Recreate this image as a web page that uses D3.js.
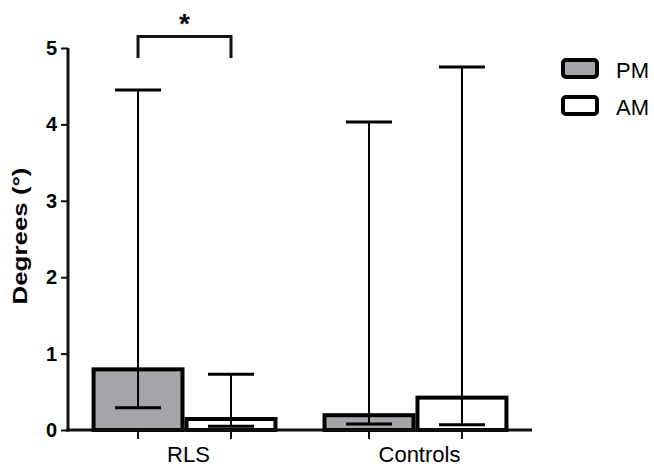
<!DOCTYPE html>
<html>
<head>
<meta charset="utf-8">
<script src="https://cdn.jsdelivr.net/npm/d3@7"></script>
<style>
  body { margin: 0; background: #fff; }
  text { font-family: Arial, "Liberation Sans", sans-serif; }
</style>
</head>
<body>
<div id="chart"></div>
<script>
var categories = ["RLS", "Controls"];
var series = ["PM", "AM"];
var pmMean = [0.82, 0.22],
    pmLow = [0.29, 0.08],
    pmHigh = [4.45, 4.03];
var amMean = [0.17, 0.45],
    amLow = [0.05, 0.07],
    amHigh = [0.73, 4.75];
var yTicks = [0, 1, 2, 3, 4, 5];
var colors = { PM: "#a5a5a9", AM: "#ffffff" };

var width = 654,
    height = 468;

var svg = d3.select("#chart").append("svg")
    .attr("width", width)
    .attr("height", height);

var y = d3.scaleLinear().domain([0, 5]).range([430, 48]);

var x0 = d3.scaleBand()
    .domain(categories)
    .range([68, 532])
    .paddingInner(0.195)
    .paddingOuter(0.102);

var x1 = d3.scaleBand()
    .domain(series)
    .range([0, x0.bandwidth()]);

var rows = [];
categories.forEach(function(c, i) {
  rows.push({ cat: c, key: "PM", mean: pmMean[i], low: pmLow[i], high: pmHigh[i] });
  rows.push({ cat: c, key: "AM", mean: amMean[i], low: amLow[i], high: amHigh[i] });
});

function cx(d) { return x0(d.cat) + x1(d.key) + x1.bandwidth() / 2; }

// bars
svg.selectAll(".bar")
  .data(rows)
  .enter().append("rect")
    .attr("class", "bar")
    .attr("x", function(d) { return x0(d.cat) + x1(d.key) + 2; })
    .attr("width", x1.bandwidth() - 4)
    .attr("y", function(d) { return y(d.mean) + 2; })
    .attr("height", function(d) { return y(0) - y(d.mean) - 2; })
    .attr("fill", function(d) { return colors[d.key]; })
    .attr("stroke", "#000")
    .attr("stroke-width", 4);

// error bars
var eb = svg.selectAll(".err").data(rows).enter().append("g").attr("class", "err");
eb.append("line")
    .attr("x1", cx).attr("x2", cx)
    .attr("y1", function(d) { return y(d.low); })
    .attr("y2", function(d) { return y(d.high); })
    .attr("stroke", "#000").attr("stroke-width", 2);
["low", "high"].forEach(function(k) {
  eb.append("line")
    .attr("x1", function(d) { return cx(d) - 23; })
    .attr("x2", function(d) { return cx(d) + 23; })
    .attr("y1", function(d) { return y(d[k]); })
    .attr("y2", function(d) { return y(d[k]); })
    .attr("stroke", "#000").attr("stroke-width", 3);
});

// y axis
var yAxis = svg.append("g")
    .attr("transform", "translate(68,0)")
    .call(d3.axisLeft(y).tickValues(yTicks).tickFormat(d3.format("d")).tickSize(7).tickPadding(4));
yAxis.select(".domain").attr("stroke", "#111").attr("stroke-width", 3).attr("d", "M0," + (y(0) + 1.5) + "V" + y(5));
yAxis.selectAll(".tick line").attr("stroke", "#111").attr("stroke-width", 2);
yAxis.selectAll(".tick text")
    .attr("font-size", 20).attr("font-weight", "bold").attr("fill", "#000")
    .attr("font-family", "Arial, 'Liberation Sans', sans-serif");

// x axis
var xg = svg.append("g");
xg.append("line")
    .attr("x1", 66.5).attr("x2", 532)
    .attr("y1", y(0)).attr("y2", y(0))
    .attr("stroke", "#111").attr("stroke-width", 3);
xg.selectAll(".xt").data(rows).enter().append("line")
    .attr("x1", cx).attr("x2", cx)
    .attr("y1", y(0)).attr("y2", y(0) + 9)
    .attr("stroke", "#111").attr("stroke-width", 2);
xg.selectAll(".xl").data(categories).enter().append("text")
    .attr("x", function(d) { return x0(d) + x0.bandwidth() / 2 + 4; })
    .attr("y", 462)
    .attr("text-anchor", "middle")
    .attr("font-size", 22)
    .text(function(d) { return d; });

// y label
svg.append("text")
    .attr("transform", "translate(27,236) rotate(-90)")
    .attr("text-anchor", "middle")
    .attr("font-size", 21)
    .attr("font-weight", "bold")
    .attr("textLength", 137)
    .attr("lengthAdjust", "spacingAndGlyphs")
    .text("Degrees (°)");

// significance bracket
var bx1 = cx(rows[0]), bx2 = cx(rows[1]);
svg.append("path")
    .attr("d", "M" + bx1 + "," + y(4.87) + "V" + y(5.15) + "H" + bx2 + "V" + y(4.87))
    .attr("fill", "none").attr("stroke", "#111").attr("stroke-width", 3);
svg.append("text")
    .attr("x", (bx1 + bx2) / 2)
    .attr("y", 33)
    .attr("text-anchor", "middle")
    .attr("font-size", 28)
    .attr("font-weight", "bold")
    .text("*");

// legend
var lg = svg.selectAll(".lg").data(series).enter().append("g")
    .attr("transform", function(d, i) { return "translate(563," + (60 + i * 37) + ")"; });
lg.append("rect")
    .attr("width", 34).attr("height", 17).attr("rx", 3)
    .attr("fill", function(d) { return colors[d]; })
    .attr("stroke", "#000").attr("stroke-width", 4);
lg.append("text")
    .attr("x", 53).attr("y", 18)
    .attr("font-size", 22)
    .text(function(d) { return d; });
</script>
</body>
</html>
